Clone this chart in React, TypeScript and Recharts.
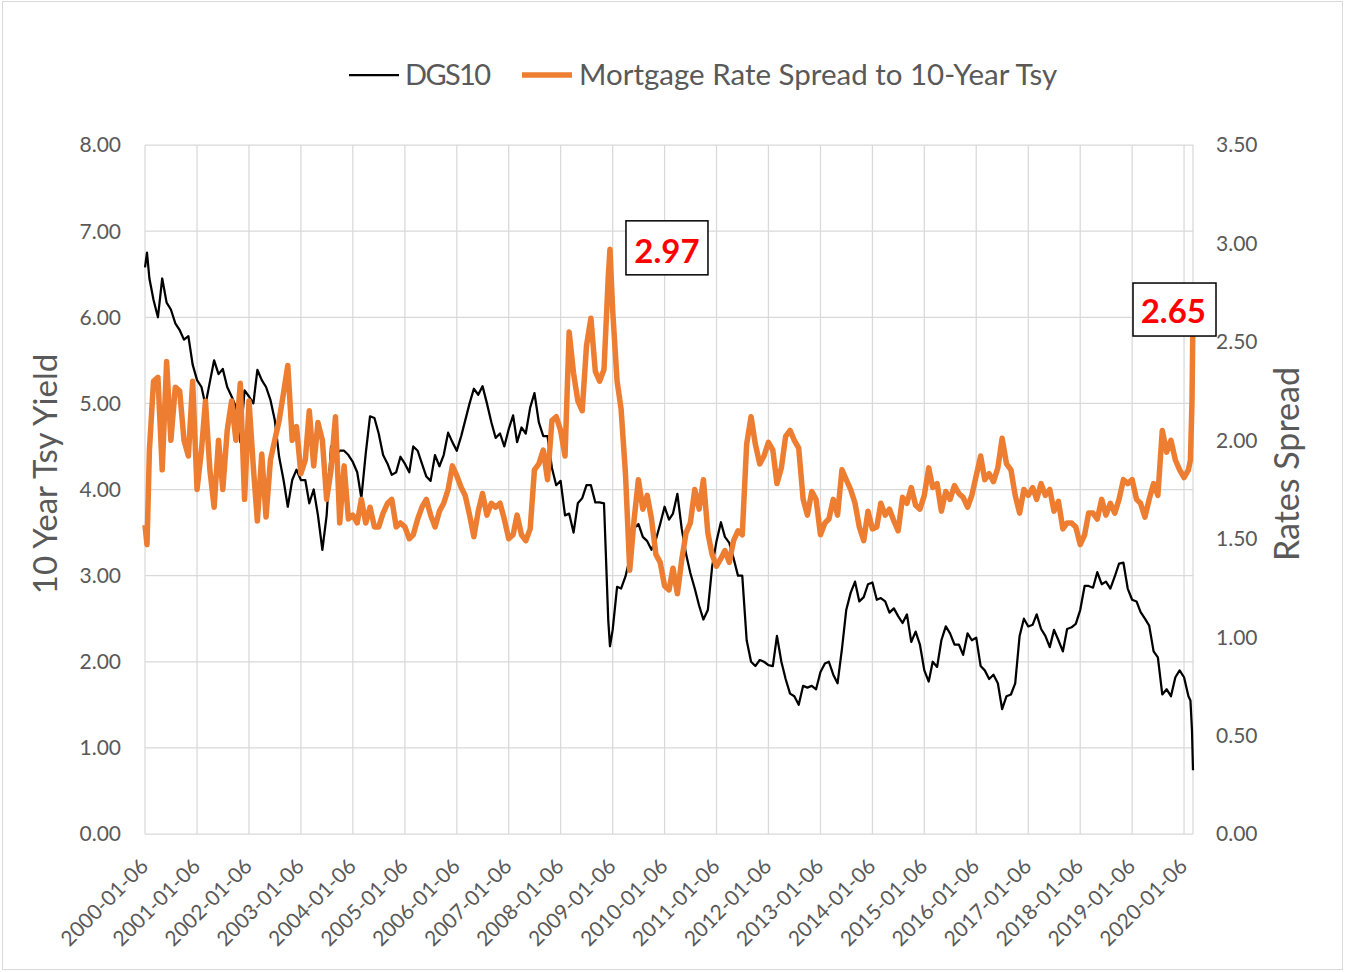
import React from 'react';
import { LineChart, Line, XAxis, YAxis, CartesianGrid, ReferenceDot, Legend } from 'recharts';

const FONT = "Lato, 'Noto Sans', sans-serif";

// first-of-month readings (dated the 6th), Jan 2000 .. Feb 2020
const dgs10Monthly = [
  6.58, 6.45, 6.2, 6.0, 6.45, 6.17, 6.09, 5.93, 5.85, 5.74, 5.78, 5.45,
  5.27, 5.19, 4.98, 5.25, 5.5, 5.34, 5.4, 5.19, 5.08, 4.96, 4.55, 5.15,
  5.08, 5.0, 5.39, 5.27, 5.19, 5.04, 4.81, 4.38, 4.11, 3.8, 4.11, 4.23,
  4.11, 4.11, 3.84, 4.0, 3.7, 3.3, 3.7, 4.5, 4.4, 4.45, 4.45, 4.4,
  4.32, 4.2, 3.9, 4.42, 4.85, 4.83, 4.65, 4.4, 4.3, 4.17, 4.2, 4.38,
  4.3, 4.2, 4.5, 4.45, 4.3, 4.15, 4.1, 4.4, 4.27, 4.4, 4.66, 4.55,
  4.45, 4.62, 4.8, 5.0, 5.17, 5.1, 5.2, 5.0, 4.78, 4.6, 4.65, 4.5,
  4.7, 4.86, 4.55, 4.72, 4.65, 4.95, 5.12, 4.78, 4.62, 4.62, 4.25, 4.05,
  4.1, 3.7, 3.72, 3.5, 3.84, 3.9, 4.05, 4.05, 3.85, 3.85, 3.84, 2.48,
  2.37, 2.87, 2.85, 2.99, 3.2, 3.55, 3.6, 3.45, 3.4, 3.3, 3.42, 3.6,
  3.8, 3.65, 3.72, 3.95, 3.55, 3.25, 3.03, 2.85, 2.65, 2.49, 2.6, 3.1,
  3.4, 3.62, 3.45, 3.38, 3.2, 3.0, 3.0, 2.25, 2.0, 1.95, 2.02, 2.0,
  1.96, 1.95, 2.3, 2.0, 1.8, 1.63, 1.6, 1.5, 1.72, 1.7, 1.72, 1.68,
  1.88, 1.98, 2.0, 1.85, 1.75, 2.15, 2.6, 2.8, 2.93, 2.7, 2.75, 2.9,
  2.92, 2.72, 2.74, 2.7, 2.57, 2.62, 2.53, 2.45, 2.55, 2.23, 2.35, 2.2,
  1.9, 1.77, 2.0, 1.94, 2.25, 2.41, 2.33, 2.2, 2.2, 2.08, 2.33, 2.25,
  2.28, 1.95, 1.9, 1.8, 1.85, 1.75, 1.45, 1.6, 1.62, 1.75, 2.3, 2.5,
  2.41, 2.43, 2.55, 2.38, 2.3, 2.17, 2.37, 2.25, 2.12, 2.38, 2.4, 2.44,
  2.6, 2.88, 2.88, 2.86, 3.04, 2.9, 2.93, 2.85, 2.99, 3.14, 3.15, 2.85,
  2.72, 2.7, 2.58, 2.5, 2.42, 2.12, 2.05, 1.62, 1.68, 1.6, 1.82, 1.9,
  1.82, 1.6,
];

const spreadMonthly = [
  1.57, 1.95, 2.3, 2.32, 1.85, 2.4, 2.0, 2.27, 2.25, 2.0, 1.92, 2.3,
  1.75, 1.95, 2.2, 1.85, 1.66, 2.0, 1.75, 2.05, 2.2, 2.0, 2.29, 1.7,
  2.2, 1.86, 1.59, 1.93, 1.61, 1.9, 2.0, 2.1, 2.24, 2.38, 2.0, 2.07,
  1.83, 1.9, 2.15, 1.87, 2.09, 2.0, 1.7, 1.85, 2.12, 1.58, 1.87, 1.6,
  1.62, 1.58, 1.7, 1.58, 1.66, 1.56, 1.56, 1.63, 1.68, 1.7, 1.56, 1.58,
  1.56, 1.5, 1.52, 1.6, 1.66, 1.7, 1.62, 1.56, 1.64, 1.68, 1.75, 1.87,
  1.82, 1.76, 1.72, 1.62, 1.51, 1.64, 1.73, 1.62, 1.68, 1.66, 1.68, 1.6,
  1.5, 1.52, 1.62, 1.52, 1.49, 1.55, 1.85, 1.88, 1.95, 1.8, 2.1, 2.12,
  2.05, 1.92, 2.55, 2.34, 2.2, 2.15, 2.48, 2.62, 2.35, 2.3, 2.36, 2.83,
  2.66, 2.3, 2.16, 1.83, 1.34, 1.6, 1.8, 1.65, 1.72, 1.6, 1.42, 1.38,
  1.26, 1.24, 1.35, 1.22, 1.39, 1.53, 1.58, 1.75, 1.65, 1.8, 1.53, 1.42,
  1.36, 1.4, 1.44, 1.38, 1.49, 1.54, 1.52, 1.98, 2.12, 1.98, 1.88, 1.92,
  1.99, 1.95, 1.78, 1.86, 2.02, 2.05, 2.0, 1.96, 1.7, 1.62, 1.74, 1.7,
  1.52, 1.58, 1.6, 1.7, 1.62, 1.85, 1.8, 1.75, 1.68, 1.56, 1.49, 1.64,
  1.55, 1.56, 1.68, 1.62, 1.65, 1.59, 1.54, 1.71, 1.68, 1.76, 1.67, 1.65,
  1.72, 1.86, 1.76, 1.78, 1.64, 1.74, 1.7, 1.77, 1.73, 1.71, 1.66, 1.72,
  1.82, 1.92, 1.8, 1.83, 1.79, 1.86, 2.01, 1.88, 1.85, 1.72, 1.63, 1.75,
  1.72, 1.76, 1.7, 1.78, 1.72, 1.75, 1.64, 1.69, 1.55, 1.58, 1.58, 1.56,
  1.47, 1.52, 1.63, 1.63, 1.6, 1.7, 1.62, 1.68, 1.63, 1.7, 1.8, 1.78,
  1.8, 1.7, 1.68, 1.61, 1.7, 1.78, 1.72, 2.05, 1.94, 2.0, 1.9, 1.85,
  1.81, 1.85,
];

// extra weekly readings at the turning points
const extraDates = ['2000-01-20', '2008-12-18', '2020-02-20', '2020-03-02', '2020-03-09'];
const extraDgs10 = [6.75, 2.18, 1.55, 1.2, 0.74];
const extraSpread = [1.47, 2.97, 1.9, 2.2, 2.65];

const tickDates = [
  '2000-01-06', '2001-01-06', '2002-01-06', '2003-01-06', '2004-01-06', '2005-01-06', '2006-01-06',
  '2007-01-06', '2008-01-06', '2009-01-06', '2010-01-06', '2011-01-06', '2012-01-06', '2013-01-06',
  '2014-01-06', '2015-01-06', '2016-01-06', '2017-01-06', '2018-01-06', '2019-01-06', '2020-01-06',
];
const leftTicks = [0, 1, 2, 3, 4, 5, 6, 7, 8];
const rightTicks = [0, 0.5, 1, 1.5, 2, 2.5, 3, 3.5];

const toTime = (d: string) => Date.parse(d + 'T00:00:00Z');
const fmtDate = (t: number) => new Date(t).toISOString().slice(0, 10);

const monthlyDates = dgs10Monthly.map(
  (_, i) => `${2000 + Math.floor(i / 12)}-${String((i % 12) + 1).padStart(2, '0')}-06`
);

const data = [
  ...monthlyDates.map((d, i) => ({ t: toTime(d), dgs10: dgs10Monthly[i], spread: spreadMonthly[i] })),
  ...extraDates.map((d, i) => ({ t: toTime(d), dgs10: extraDgs10[i], spread: extraSpread[i] })),
].sort((a, b) => a.t - b.t);

const peak = data.reduce((m, r) => (r.spread > m.spread ? r : m), data[0]);
const last = data[data.length - 1];

const XTick = (props: any) => {
  const { x, y, payload } = props;
  const ax = x - 1.5;
  const ay = y + 27.5;
  return (
    <text
      x={ax}
      y={ay}
      transform={`rotate(-45 ${ax} ${ay})`}
      textAnchor="end"
      dominantBaseline="central"
      fill="#595959"
      fontSize={21}
      fontFamily={FONT}
    >
      {fmtDate(payload.value)}
    </text>
  );
};

const callout = (value: number, box: number[], text: number[]) => (props: any) => {
  const { cx, cy } = props;
  return (
    <g>
      <rect x={cx + box[0]} y={cy + box[1]} width={box[2]} height={box[3]} fill="#fff" stroke="#000" strokeWidth={1.5} />
      <text x={cx + text[0]} y={cy + text[1]} textAnchor="middle" fill="#ff0000" fontWeight="bold" fontSize={33} fontFamily={FONT}>
        {value.toFixed(2)}
      </text>
    </g>
  );
};

const renderLegend = () => (
  <svg width={1345} height={50}>
    <line x1={349} x2={399} y1={25} y2={25} stroke="#000" strokeWidth={2.25} />
    <text x={405} y={35} fill="#595959" fontSize={29} fontFamily={FONT} textLength={86}>DGS10</text>
    <line x1={522} x2={572} y1={25} y2={25} stroke="#ED7D31" strokeWidth={5.5} />
    <text x={579} y={35} fill="#595959" fontSize={29.5} fontFamily={FONT}>Mortgage Rate Spread to 10-Year Tsy</text>
  </svg>
);

export default function App() {
  return (
    <div style={{ position: 'absolute', left: 0, top: 0, width: 1345, height: 972, background: '#fff' }}>
      <div
        style={{
          position: 'absolute', left: 2, top: 1, width: 1339, height: 967,
          border: '1px solid #d9d9d9', pointerEvents: 'none',
        }}
      />
      <LineChart width={1345} height={972} data={data} margin={{ top: 145, right: 0, bottom: 0, left: 0 }}>
        <CartesianGrid yAxisId="left" stroke="#d9d9d9" strokeWidth={1.25} />
        <XAxis
          dataKey="t"
          type="number"
          domain={['dataMin', 'dataMax']}
          ticks={tickDates.map(toTime)}
          interval={0}
          tick={<XTick />}
          tickLine={false}
          axisLine={false}
          tickSize={0}
          tickMargin={0}
          height={138}
        />
        <YAxis
          yAxisId="left"
          domain={[0, 8]}
          ticks={leftTicks}
          tickFormatter={(v: number) => v.toFixed(2)}
          width={145}
          tickLine={false}
          axisLine={false}
          tickSize={0}
          tickMargin={24}
          tick={{ fill: '#595959', fontSize: 21, fontFamily: FONT }}
          label={{
            content: () => (
              <text transform="translate(57,474) rotate(-90)" textAnchor="middle" fill="#595959" fontSize={33} fontFamily={FONT}>
                10 Year Tsy Yield
              </text>
            ),
          }}
        />
        <YAxis
          yAxisId="right"
          orientation="right"
          domain={[0, 3.5]}
          ticks={rightTicks}
          tickFormatter={(v: number) => v.toFixed(2)}
          width={152}
          tickLine={false}
          axisLine={false}
          tickSize={0}
          tickMargin={23}
          tick={{ fill: '#595959', fontSize: 21, fontFamily: FONT }}
          label={{
            content: () => (
              <text transform="translate(1299,464) rotate(-90)" textAnchor="middle" fill="#595959" fontSize={34} fontFamily={FONT}>
                Rates Spread
              </text>
            ),
          }}
        />
        <Legend
          layout="vertical"
          align="center"
          verticalAlign="middle"
          wrapperStyle={{ top: 50, left: 0, width: 1345, height: 50 }}
          content={renderLegend}
        />
        <Line
          yAxisId="left"
          type="linear"
          dataKey="dgs10"
          name="DGS10"
          stroke="#000"
          strokeWidth={2.25}
          dot={false}
          strokeLinejoin="round"
          isAnimationActive={false}
        />
        <Line
          yAxisId="right"
          type="linear"
          dataKey="spread"
          name="Mortgage Rate Spread to 10-Year Tsy"
          stroke="#ED7D31"
          strokeWidth={5.5}
          dot={false}
          strokeLinejoin="round"
          isAnimationActive={false}
        />
        <ReferenceDot
          yAxisId="right"
          x={peak.t}
          y={peak.spread}
          r={0}
          shape={callout(peak.spread, [16, -28.5, 82, 54], [57, 13.7])}
        />
        <ReferenceDot
          yAxisId="right"
          x={last.t}
          y={last.spread}
          r={0}
          shape={callout(last.spread, [-60, -29.3, 83, 53], [-19.7, 11])}
        />
      </LineChart>
    </div>
  );
}
